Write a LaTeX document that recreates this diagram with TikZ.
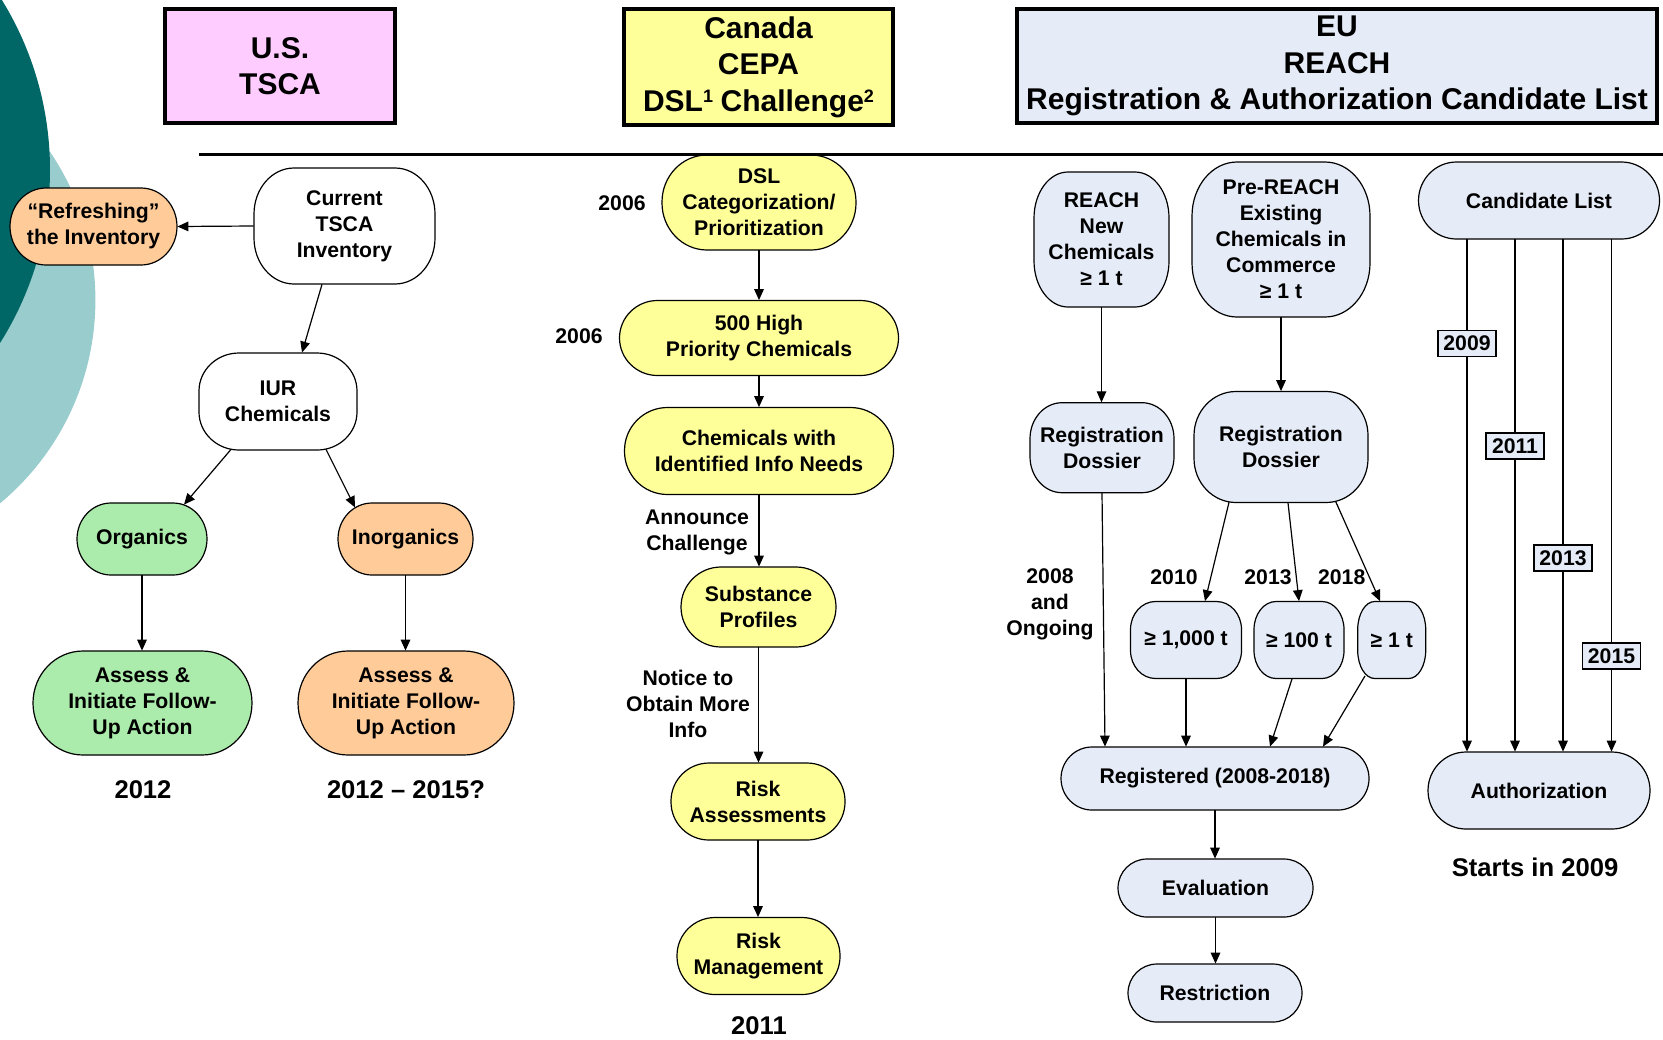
\documentclass[tikz,border=0pt]{standalone}
\usepackage{fontspec}
\setmainfont{Liberation Sans}
\usetikzlibrary{arrows.meta,calc}
\pgfdeclarelayer{bg}
\pgfdeclarelayer{shapes}
\pgfsetlayers{bg,shapes,main}

\definecolor{tealdark}{RGB}{0,102,102}
\definecolor{teallight}{RGB}{153,204,204}
\definecolor{pinkhead}{RGB}{255,204,255}
\definecolor{yellowfill}{RGB}{255,255,153}
\definecolor{eublue}{RGB}{230,236,247}
\definecolor{greenfill}{RGB}{171,235,171}
\definecolor{peach}{RGB}{255,204,153}

\tikzset{
  txt/.style={align=center, inner sep=0pt, font=\fontsize{10.6}{13}\selectfont\bfseries},
  yearlbl/.style={align=center, inner sep=0pt, font=\fontsize{12.8}{15}\selectfont\bfseries},
  headbox/.style={draw=black, line width=2pt, align=center, inner sep=0pt,
    font=\fontsize{15}{18.2}\selectfont\bfseries},
  boxline/.style={draw=black, line width=0.6pt},
  arr/.style={draw=black, line width=0.6pt, -{Triangle[length=5.5pt,width=4.8pt]}},
  yearbox/.style={draw=black, fill=eublue, line width=0.6pt, inner sep=0pt,
    minimum width=29pt, minimum height=13pt, font=\fontsize{10.6}{13}\selectfont\bfseries},
}

% small raised note number in the header
\newcommand{\notemark}[1]{\raisebox{4.3pt}{\fontsize{9}{9}\selectfont #1}}

% Rounded box with elliptical corners:
% #1 name, #2 cx, #3 cy, #4 width, #5 height, #6 corner x radius, #7 corner y radius, #8 fill, #9 text
\newcommand{\roundnode}[9]{%
  \pgfmathsetmacro\rnL{#2-#4/2}%
  \pgfmathsetmacro\rnR{#2+#4/2}%
  \pgfmathsetmacro\rnT{#3-#5/2}%
  \pgfmathsetmacro\rnB{#3+#5/2}%
  \pgfmathsetmacro\rnkx{0.4477*#6}%
  \pgfmathsetmacro\rnky{0.4477*#7}%
  \begin{pgfonlayer}{shapes}
    \draw[boxline, fill=#8]
      (\rnL+#6,\rnT) -- (\rnR-#6,\rnT)
      .. controls (\rnR-\rnkx,\rnT) and (\rnR,\rnT+\rnky) .. (\rnR,\rnT+#7)
      -- (\rnR,\rnB-#7)
      .. controls (\rnR,\rnB-\rnky) and (\rnR-\rnkx,\rnB) .. (\rnR-#6,\rnB)
      -- (\rnL+#6,\rnB)
      .. controls (\rnL+\rnkx,\rnB) and (\rnL,\rnB-\rnky) .. (\rnL,\rnB-#7)
      -- (\rnL,\rnT+#7)
      .. controls (\rnL,\rnT+\rnky) and (\rnL+\rnkx,\rnT) .. (\rnL+#6,\rnT) -- cycle;
  \end{pgfonlayer}
  \node[txt, minimum width=#4*0.5pt, minimum height=#5*0.5pt] (#1) at (#2,#3) {#9};%
}

\begin{document}
\begin{tikzpicture}[x=0.5pt,y=-0.5pt]
\useasboundingbox (0,0) rectangle (1663,1039);

% backdrop with the two teal discs at the left edge
\begin{pgfonlayer}{bg}
  \fill[white] (0,0) rectangle (1663,1039);
  \begin{scope}
    \clip (0,0) rectangle (1663,1039);
    \fill[teallight] (-169,300) circle[radius=264.4];
    \fill[tealdark] (-274,170) circle[radius=324];
  \end{scope}
\end{pgfonlayer}

% column headers
\node[headbox, fill=pinkhead, minimum width=115pt, minimum height=57pt] (us) at (280,66) {U.S.\\TSCA};
\node[headbox, fill=yellowfill, minimum width=134.5pt, minimum height=58pt] (ca) at (758.5,67)
  {Canada\\CEPA\\DSL\notemark{1}\hspace{3.8pt}Challenge\notemark{2}};
\node[headbox, fill=eublue, minimum width=320pt, minimum height=57pt] (eu) at (1337,66)
  {EU\\REACH\\Registration \& Authorization Candidate List};
\draw[line width=1.5pt] (199,154) -- (1663,154);

% ---------------- U.S. TSCA ----------------
\roundnode{refresh}{93.5}{226.5}{167}{77}{36}{38.5}{peach}{“Refreshing”\\the Inventory}
\roundnode{current}{344.5}{226}{181}{116}{40}{46}{white}{Current\\TSCA\\Inventory}
\roundnode{iur}{278}{401.5}{158}{97}{40}{38}{white}{IUR\\Chemicals}
\roundnode{organics}{142}{539}{130}{72}{34}{36}{greenfill}{Organics}
\roundnode{inorganics}{405.5}{539}{135}{72}{34}{36}{peach}{Inorganics}
\roundnode{assessG}{142.5}{703}{219}{104}{50}{52}{greenfill}{Assess \&\\Initiate Follow-\\Up Action}
\roundnode{assessP}{406}{703}{216}{104}{50}{52}{peach}{Assess \&\\Initiate Follow-\\Up Action}

\draw[arr] (current.west) -- (refresh.east);
\draw[arr] ($(current.south)+(-22.5,0)$) -- ($(iur.north)+(24,0)$);
\draw[arr] ($(iur.south)+(-47,-1)$) -- ($(organics.north)+(42,2)$);
\draw[arr] ($(iur.south)+(48,-1)$) -- ($(inorganics.north)+(-50.5,4.8)$);
\draw[arr] (organics.south) -- (organics.south |- assessG.north);
\draw[arr] (inorganics.south) -- (inorganics.south |- assessP.north);

\node[yearlbl] (l2012) at (143,790) {2012};
\node[yearlbl] (l2015) at (406,790) {2012 – 2015?};

% ---------------- Canada CEPA ----------------
\roundnode{dsl}{759}{202.5}{194}{95}{45}{47}{yellowfill}{DSL\\Categorization/\\Prioritization}
\roundnode{high}{759}{338}{279}{75}{38}{37.5}{yellowfill}{500 High\\Priority Chemicals}
\roundnode{needs}{759}{451}{269}{87}{43}{43}{yellowfill}{Chemicals with\\Identified Info Needs}
\roundnode{subst}{758.5}{607}{155}{80}{40}{40}{yellowfill}{Substance\\Profiles}
\roundnode{riskA}{758}{801.5}{174}{77}{38}{38}{yellowfill}{Risk\\Assessments}
\roundnode{riskM}{758.5}{956}{163}{77}{38}{38}{yellowfill}{Risk\\Management}

\draw[arr] (dsl.south) -- (dsl.south |- high.north);
\draw[arr] (high.south) -- (high.south |- needs.north);
\draw[arr] (needs.south) -- (needs.south |- subst.north);
\draw[arr] (subst.south) -- (subst.south |- riskA.north);
\draw[arr] (riskA.south) -- (riskA.south |- riskM.north);

\node[txt] (y2006a) at (622,203) {2006};
\node[txt] (y2006b) at (579,336) {2006};
\node[txt] (announce) at (697,532) {Announce\\Challenge};
\node[txt] (notice) at (688,704) {Notice to\\Obtain More\\Info};
\node[yearlbl] (l2011) at (759,1026) {2011};

% ---------------- EU REACH ----------------
\roundnode{reachNew}{1101.5}{239.5}{135}{135}{34}{46}{eublue}{REACH\\New\\Chemicals\\≥ 1 t}
\roundnode{preReach}{1281}{239.5}{178}{155}{45}{54}{eublue}{Pre-REACH\\Existing\\Chemicals in\\Commerce\\≥ 1 t}
\roundnode{cand}{1539}{200.5}{241}{77}{38}{38.5}{eublue}{Candidate List}
\roundnode{dossL}{1102}{447.7}{144}{90}{32}{36}{eublue}{Registration\\Dossier}
\roundnode{dossR}{1281}{447}{174}{111}{42}{44}{eublue}{Registration\\Dossier}
\roundnode{geK}{1186}{640}{111}{77}{25}{28}{eublue}{≥ 1,000 t}
\roundnode{geH}{1299}{640}{90}{77}{22}{28}{eublue}{≥ 100 t}
\roundnode{geOne}{1391.7}{640}{68}{77}{17}{28}{eublue}{≥ 1 t}
\roundnode{registered}{1215}{778.5}{308}{63}{31}{31.5}{eublue}{Registered (2008-2018)}
\roundnode{evaluation}{1215.5}{888}{195}{58}{29}{29}{eublue}{Evaluation}
\roundnode{restriction}{1215}{993}{174}{58}{29}{29}{eublue}{Restriction}
\roundnode{auth}{1539}{790.5}{222}{77}{38}{38.5}{eublue}{Authorization}

\draw[arr] (reachNew.south) -- (reachNew.south |- dossL.north);
\draw[arr] (preReach.south) -- (preReach.south |- dossR.north);
\draw[arr] (dossL.south) -- ($(registered.north)+(-110,0)$);
\draw[arr] ($(dossR.south)+(-52,-0.6)$) -- ($(geK.north)+(19,0)$);
\draw[arr] ($(dossR.south)+(7,0)$) -- (geH.north);
\draw[arr] ($(dossR.south)+(54.7,-1.3)$) -- ($(geOne.north)+(-11.7,0)$);
\draw[arr] (geK.south) -- (geK.south |- registered.north);
\draw[arr] ($(geH.south)+(-7,0)$) -- ($(registered.north)+(55,0)$);
\draw[arr] ($(geOne.south)+(-26.7,-3)$) -- ($(registered.north)+(108,0)$);
\draw[arr] (registered.south) -- (registered.south |- evaluation.north);
\draw[arr] (evaluation.south) -- (evaluation.south |- restriction.north);

\draw[arr] ($(cand.south)+(-72,0)$) -- ($(auth.north)+(-72,0)$);
\draw[arr] ($(cand.south)+(-24,0)$) -- ($(auth.north)+(-24,0)$);
\draw[arr] ($(cand.south)+(24,0)$) -- ($(auth.north)+(24,0)$);
\draw[arr] ($(cand.south)+(72.5,0)$) -- ($(auth.north)+(72.5,0)$);

\node[yearbox] (b2009) at (1467,343.5) {2009};
\node[yearbox] (b2011) at (1515,446) {2011};
\node[yearbox] (b2013) at (1563,558) {2013};
\node[yearbox] (b2015) at (1611.5,656) {2015};

\node[txt] (y2010) at (1174,577) {2010};
\node[txt] (y2013) at (1268,577) {2013};
\node[txt] (y2018) at (1341.7,577) {2018};
\node[txt] (ongoing) at (1050,604) {2008\\and\\Ongoing};
\node[yearlbl] (starts) at (1535,867) {Starts in 2009};
\end{tikzpicture}
\end{document}
